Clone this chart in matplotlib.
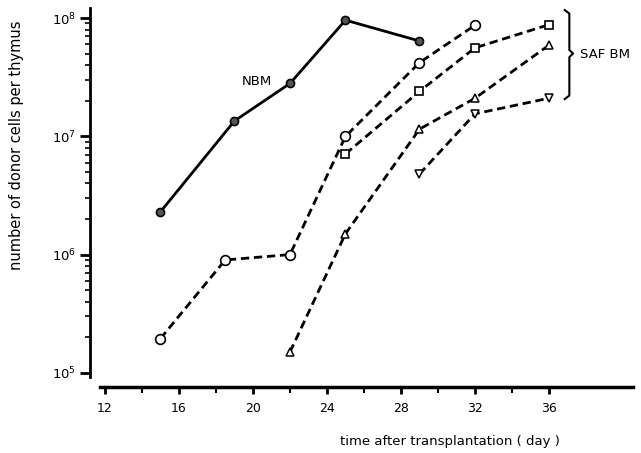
import numpy as np
import matplotlib
matplotlib.use("Agg")
import matplotlib.pyplot as plt
from matplotlib.ticker import FixedLocator, NullFormatter

# ---- dados (dias, células doadoras por timo) ----
nbm_days = [15, 19, 22, 25, 29]
nbm_cells = [2.3e6, 1.35e7, 2.8e7, 9.6e7, 6.4e7]

saf_circle_days = [15, 18.5, 22, 25, 29, 32]
saf_circle_cells = [1.95e5, 9.0e5, 1.0e6, 1.0e7, 4.2e7, 8.7e7]

saf_square_days = [25, 29, 32, 36]
saf_square_cells = [7.1e6, 2.4e7, 5.6e7, 8.8e7]

saf_up_days = [22, 25, 29, 32, 36]
saf_up_cells = [1.5e5, 1.5e6, 1.15e7, 2.1e7, 5.9e7]

saf_down_days = [29, 32, 36]
saf_down_cells = [4.8e6, 1.55e7, 2.1e7]

xticks = [12, 16, 20, 24, 28, 32, 36]
yticks = [1e5, 1e6, 1e7, 1e8]

plt.rcParams['font.family'] = 'DejaVu Sans'

fig = plt.figure(figsize=(6.41, 4.53), dpi=100)
ax = fig.add_axes([0.1404, 0.1457, 0.8471, 0.8366])
ax.set_yscale('log')
ax.set_xlim(11.19, 40.54)
ax.set_ylim(10**4.88, 10**8.085)

lw = 2.0
dash = (3.0, 1.7)

# NBM - linha cheia, círculos preenchidos
ax.plot(nbm_days, nbm_cells, '-', color='black', lw=lw,
        marker='o', ms=5.8, mfc='#555555', mec='black', mew=1.2, zorder=3)

# SAF BM - linhas tracejadas
ax.plot(saf_circle_days, saf_circle_cells, color='black', lw=lw, dashes=dash,
        marker='o', ms=7, mfc='white', mec='black', mew=1.2, zorder=3)
ax.plot(saf_square_days, saf_square_cells, color='black', lw=lw, dashes=dash,
        marker='s', ms=5.8, mfc='white', mec='black', mew=1.2, zorder=3)
ax.plot(saf_up_days, saf_up_cells, color='black', lw=lw, dashes=dash,
        marker='^', ms=6.2, mfc='white', mec='black', mew=1.1, zorder=3)
ax.plot(saf_down_days, saf_down_cells, color='black', lw=lw, dashes=dash,
        marker='v', ms=6.2, mfc='white', mec='black', mew=1.1, zorder=3)

# eixos no estilo da figura original
for s in ['top', 'right']:
    ax.spines[s].set_visible(False)
ax.spines['left'].set_linewidth(2)
ax.spines['bottom'].set_linewidth(2.5)
ax.spines['left'].set_bounds(10**4.965, 10**8.085)
ax.spines['bottom'].set_bounds(11.73, 40.54)

ax.set_yticks(yticks)
ax.yaxis.set_minor_locator(FixedLocator(
    [m * 10**e for e in range(5, 8) for m in range(2, 10)]))
ax.yaxis.set_minor_formatter(NullFormatter())
ax.tick_params(axis='y', which='major', direction='out', length=7, width=2,
               labelsize=9.5, pad=3)
ax.tick_params(axis='y', which='minor', direction='out', length=3.5, width=1.2)

ax.set_xticks(xticks)
ax.xaxis.set_minor_locator(FixedLocator([14, 18, 22, 26, 30, 34]))
ax.tick_params(axis='x', which='major', direction='out', length=5, width=2,
               labelsize=9, pad=6)
ax.tick_params(axis='x', which='minor', direction='out', length=4, width=1.5)

# rótulos
ax.text(20.2, 2.9e7, 'NBM', fontsize=9.5, ha='center', va='center')
ax.text(37.7, 4.9e7, 'SAF BM', fontsize=9.5, ha='left', va='center')

# chave "}" agrupando as curvas SAF BM
ytop, ymid, ybot = 8.068, 7.70, 7.315
xb, xc = 37.1, 37.3
bx = [36.85, xb, xb, xc, xb, xb, 36.85]
by = [ytop, ytop - 0.03, ymid + 0.03, ymid, ymid - 0.03, ybot + 0.03, ybot]
ax.plot(bx, [10**v for v in by], color='black', lw=1.5, clip_on=False)

fig.text(17 / 641, 1 - 145 / 453, 'number of donor cells per thymus',
         rotation=90, ha='center', va='center', fontsize=10.5)
fig.text(450 / 641, 1 - 441 / 453, 'time after transplantation ( day )',
         ha='center', va='center', fontsize=9.5)

fig.savefig('out.png', dpi=100)
